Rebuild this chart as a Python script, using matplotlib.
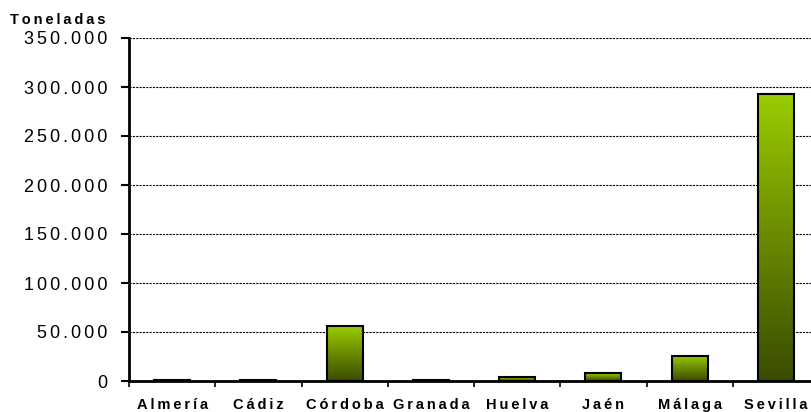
import matplotlib
matplotlib.use("Agg")
import matplotlib.pyplot as plt
import numpy as np
from matplotlib.colors import LinearSegmentedColormap
from matplotlib.ticker import FuncFormatter, MultipleLocator

categories = ["Almería", "Cádiz", "Córdoba", "Granada", "Huelva", "Jaén", "Málaga", "Sevilla"]
values = [1200, 1200, 56000, 1200, 3800, 7900, 26000, 292500]
y_label = "Toneladas"

plt.rcParams['font.family'] = ['Liberation Sans', 'DejaVu Sans']

SP_B = "\u2009"  # letter spacing for bold labels
SP_T = "\u2006"  # letter spacing for tick labels

def spaced(s, sp):
    return sp.join(list(s))

W, H = 811, 412
fig = plt.figure(figsize=(W / 100, H / 100), dpi=100)
left, right, top, bottom = 129, 819, 38, 381
ax = fig.add_axes([left / W, 1 - bottom / H, (right - left) / W, (bottom - top) / H])

x = np.arange(len(categories))
bars = ax.bar(x, values, width=0.42, color="none", edgecolor="black", linewidth=1.5, zorder=3)

cmap = LinearSegmentedColormap.from_list("g", ["#3a4c00", "#6a8a00", "#99cc00"])
grad = np.linspace(0, 1, 256).reshape(-1, 1)
for b in bars:
    x0, y0 = b.get_x(), b.get_y()
    w, h = b.get_width(), b.get_height()
    im = ax.imshow(grad, cmap=cmap, origin="lower", aspect="auto",
                   extent=[x0, x0 + w, y0, y0 + h], zorder=2, interpolation="bilinear")
    im.set_clip_path(b)

ax.set_xlim(-0.5, len(categories) - 0.5)
ax.set_ylim(0, 350000)
ax.yaxis.set_major_locator(MultipleLocator(50000))

def fmt(v, pos):
    s = f"{int(v):,}".replace(",", ".")
    return spaced(s, SP_T)

ax.yaxis.set_major_formatter(FuncFormatter(fmt))
ax.tick_params(axis="y", length=6, width=1.5, pad=9.5, labelsize=13, direction="out")

ax.set_xticks(np.arange(len(categories) + 1) - 0.5)
ax.set_xticklabels([])
ax.set_xticks(x, minor=True)
ax.set_xticklabels([spaced(c, SP_B) for c in categories], minor=True,
                   fontweight="bold", fontsize=10.5)
ax.tick_params(axis="x", which="major", length=4, width=1.2, direction="out")
ax.tick_params(axis="x", which="minor", length=0, pad=12)

ax.grid(axis="y", color="black", linestyle=(0, (2, 1)), linewidth=0.8, zorder=1)
for s in ["top", "right"]:
    ax.spines[s].set_visible(False)
ax.spines["left"].set_linewidth(2)
ax.spines["bottom"].set_linewidth(2)

fig.text(10 / W, 1 - 19.5 / H, spaced(y_label, SP_B), fontweight="bold", fontsize=10.5,
         ha="left", va="center")

fig.savefig("out.png", dpi=100)
